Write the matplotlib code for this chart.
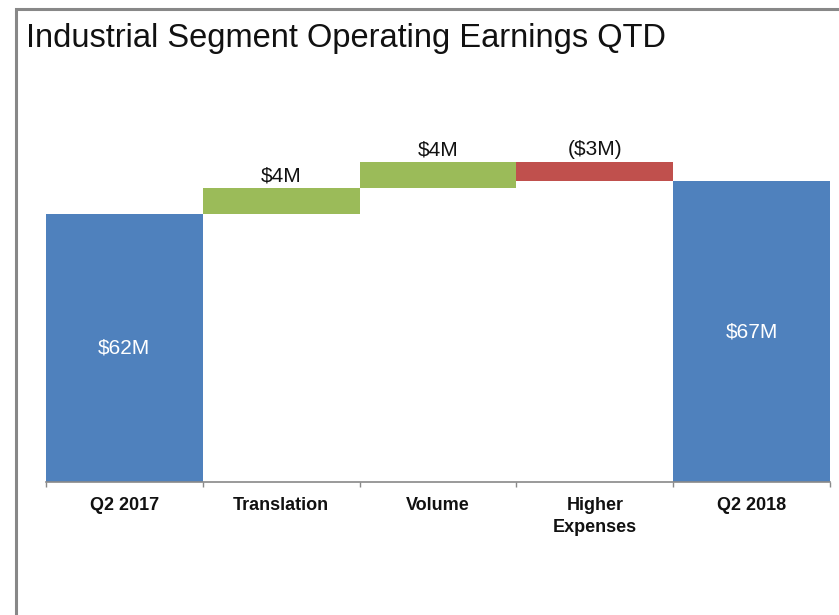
import matplotlib
matplotlib.use("Agg")
import matplotlib.pyplot as plt
from matplotlib.patches import Rectangle
import numpy as np

plt.rcParams['font.family'] = ['Liberation Sans', 'DejaVu Sans']

# Data
categories = ["Q2 2017", "Translation", "Volume", "Higher\nExpenses", "Q2 2018"]
start_total = 62
changes = [4, 4, -3]
end_total = 67

BLUE = "#4F81BD"
GREEN = "#9BBB59"
RED = "#C0504D"
GRAY = "#898989"

W, H = 839, 615
fig = plt.figure(figsize=(W / 100, H / 100), dpi=100)

# outer frame (top and left edges visible)
fig.patches.append(Rectangle((15.5 / W, -0.1), 1.2, (1 - 8.5 / H) + 0.1,
                             transform=fig.transFigure, fill=False,
                             edgecolor="#888888", linewidth=2.2))

fig.text(26.0 / W, 1 - 46.5 / H, "Industrial Segment Operating Earnings QTD",
         fontsize=23.5, color="#111111", va="baseline", ha="left")

ax_left, ax_right = 46 / W, 830 / W
ax_bottom, ax_top = 1 - 482 / H, 1 - 100 / H
ax = fig.add_axes([ax_left, ax_bottom, ax_right - ax_left, ax_top - ax_bottom])

ymin = 21.0
ymax = ymin + (482 - 100) / 6.54
ax.set_ylim(ymin, ymax)
ax.set_xlim(-0.5, len(categories) - 0.5)

x = np.arange(len(categories))

# totals
ax.bar(x[0], start_total - ymin, bottom=ymin, width=1.0, color=BLUE, linewidth=0)
ax.bar(x[-1], end_total - ymin, bottom=ymin, width=1.0, color=BLUE, linewidth=0)

# deltas
running = start_total
for i, d in enumerate(changes, start=1):
    col = GREEN if d > 0 else RED
    lo = min(running, running + d)
    ax.bar(x[i], abs(d), bottom=lo, width=1.0, color=col, linewidth=0)
    top = max(running, running + d)
    lab = f"${d:.0f}M" if d > 0 else f"(${abs(d):.0f}M)"
    ax.annotate(lab, (x[i], top), xytext=(0, 4.5), textcoords="offset points",
                ha="center", va="baseline", fontsize=15, color="#111111",
                parse_math=False)
    running += d

# total labels (centered in visible bar)
for xi, v in [(x[0], start_total), (x[-1], end_total)]:
    ax.text(xi, (ymin + v) / 2, f"${v:.0f}M", ha="center", va="center",
            fontsize=15, color="white", parse_math=False)

# axes styling
for s in ["top", "right", "left"]:
    ax.spines[s].set_visible(False)
ax.spines["bottom"].set_color(GRAY)
ax.spines["bottom"].set_linewidth(1.2)
ax.set_yticks([])
ax.set_xticks(x)
ax.set_xticklabels(categories, fontsize=13, fontweight="bold", color="#111111",
                   linespacing=1.4)
ax.tick_params(axis="x", which="major", length=0, pad=11)
ax.set_xticks(np.arange(-0.5, len(categories), 1.0), minor=True)
ax.tick_params(axis="x", which="minor", length=3.5, width=1.0, color=GRAY,
               direction="out")
ax.patch.set_visible(False)

fig.savefig("out.png", dpi=100)
